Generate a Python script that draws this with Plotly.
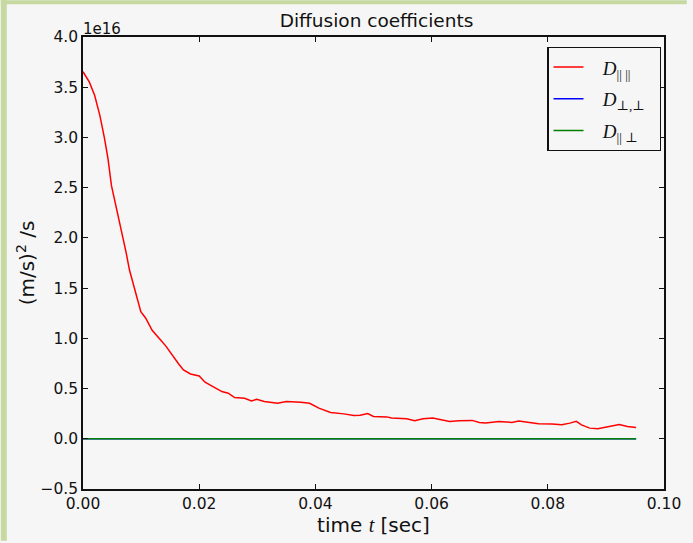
import plotly.graph_objects as go

# time samples [sec]
t = [0.0, 0.0011, 0.002, 0.0029, 0.0037, 0.0043, 0.0049, 0.0054, 0.0061, 0.0068,
     0.0074, 0.008, 0.0088, 0.00995, 0.0108, 0.0119, 0.0134, 0.0143, 0.0165, 0.0173,
     0.0185, 0.02, 0.021, 0.0224, 0.0239, 0.025, 0.0261, 0.0278, 0.029, 0.0299,
     0.0312, 0.0335, 0.035, 0.0375, 0.039, 0.0406, 0.0426, 0.0449, 0.0466, 0.0477,
     0.049, 0.05, 0.0523, 0.0531, 0.0557, 0.0571, 0.0585, 0.0602, 0.0619, 0.0631,
     0.0647, 0.067, 0.0682, 0.0693, 0.0716, 0.0738, 0.075, 0.0767, 0.0784, 0.0807,
     0.0824, 0.0838, 0.0849, 0.0858, 0.0872, 0.0886, 0.0903, 0.0923, 0.0937, 0.0952]

# D_parallel,parallel in units of 1e16 (m/s)^2/s
D_par = [3.654, 3.55, 3.42, 3.22, 2.99, 2.79, 2.52, 2.39, 2.22, 2.03,
         1.86, 1.68, 1.50, 1.265, 1.20, 1.08, 0.98, 0.92, 0.742, 0.685,
         0.645, 0.626, 0.563, 0.52, 0.47, 0.454, 0.41, 0.404, 0.377, 0.394,
         0.371, 0.354, 0.371, 0.364, 0.354, 0.305, 0.262, 0.248, 0.232, 0.235,
         0.252, 0.222, 0.218, 0.206, 0.199, 0.179, 0.199, 0.206, 0.186, 0.173,
         0.179, 0.183, 0.163, 0.156, 0.173, 0.163, 0.176, 0.163, 0.149, 0.146,
         0.139, 0.156, 0.173, 0.139, 0.106, 0.099, 0.116, 0.143, 0.123, 0.113]

t_small = [0.0, 0.0476, 0.0952]
D_perp = [0.0, 0.0, 0.0]
D_cross = [0.0, 0.0, 0.0]

x_ticks = [0.0, 0.02, 0.04, 0.06, 0.08, 0.10]
y_ticks = [-0.5, 0.0, 0.5, 1.0, 1.5, 2.0, 2.5, 3.0, 3.5, 4.0]

SERIF = "Liberation Serif, DejaVu Serif, serif"
SANS = "DejaVu Sans, sans-serif"
PADL = "&nbsp;&nbsp;&nbsp;"
PADR = "&nbsp;&nbsp;"

fig = go.Figure()
fig.add_trace(go.Scatter(x=t, y=D_par, mode="lines", line=dict(color="#ff0000", width=1.5),
                         name=PADL + "<i>D</i><sub>|| ||</sub>" + PADR, legendgroup="a"))
fig.add_trace(go.Scatter(x=t_small, y=D_perp, mode="lines", line=dict(color="#0000ff", width=1.5),
                         name=PADL + "<i>D</i><sub>⊥,⊥</sub>" + PADR, legendgroup="b"))
fig.add_trace(go.Scatter(x=t_small, y=D_cross, mode="lines", line=dict(color="#008000", width=1.5),
                         name=PADL + "<i>D</i><sub>|| ⊥</sub>" + PADR, legendgroup="c"))

bg = "#f6f6f6"
axis_common = dict(showline=True, linecolor="#111111", linewidth=1.6, mirror="allticks",
                   ticks="inside", ticklen=5, tickwidth=1.3, tickcolor="#111111",
                   showgrid=False, zeroline=False,
                   tickfont=dict(family=SANS, size=15.5, color="#111111"))

L, R, T, B = 83, 23, 37, 52
PW, PH = 693 - L - R, 543 - T - B

fig.update_layout(
    width=693, height=543,
    paper_bgcolor=bg, plot_bgcolor=bg,
    margin=dict(l=L, r=R, t=T, b=B),
    title=dict(text="Diffusion coefficients", x=(L + PW / 2) / 693, xanchor="center",
               y=1 - 21 / 543, yanchor="middle",
               font=dict(family=SANS, size=18.5, color="#111111")),
    xaxis=dict(range=[0, 0.1], tickvals=x_ticks, tickformat=".2f",
               title=dict(text="time <i style='font-family:Liberation Serif'>t</i> [sec]",
                          font=dict(family=SANS, size=20, color="#111111"), standoff=4),
               **axis_common),
    yaxis=dict(range=[-0.5, 4.0], tickvals=y_ticks, tickformat=".1f",
               title=dict(text="(m/s)<sup>2</sup> /s", font=dict(family=SANS, size=20, color="#111111"),
                          standoff=0),
               **axis_common),
    legend=dict(x=(552 - L) / PW, y=1 - (47 - T) / PH, xanchor="left", yanchor="top",
                bgcolor=bg, bordercolor="#111111", borderwidth=1.3,
                font=dict(family=SERIF, size=19, color="#111111"),
                itemwidth=30, tracegroupgap=4),
    showlegend=True,
    shapes=[
        dict(type="rect", xref="paper", yref="paper", x0=-L / PW, x1=(-L + 6) / PW,
             y0=-B / PH, y1=(PH + T) / PH, fillcolor="#c5d9a0", line=dict(width=0), layer="below"),
        dict(type="rect", xref="paper", yref="paper", x0=-L / PW, x1=(PW + R) / PW,
             y0=(PH + T - 4) / PH, y1=(PH + T) / PH, fillcolor="#c5d9a0", line=dict(width=0), layer="below"),
    ],
    annotations=[
        dict(text="1e16", xref="paper", yref="paper", x=0.0, y=1.0, xanchor="left", yanchor="bottom",
             showarrow=False, font=dict(family=SANS, size=15, color="#111111"), xshift=-2, yshift=-3),
    ],
)

fig.write_html("out.html")
